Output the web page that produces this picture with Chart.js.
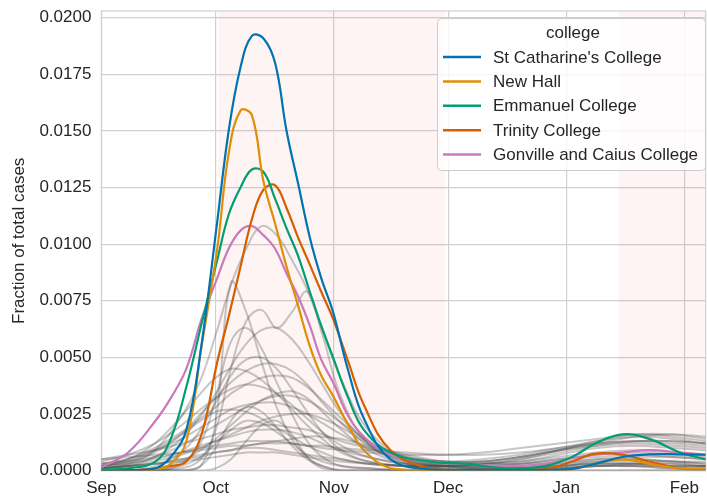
<!DOCTYPE html>
<html>
<head>
<meta charset="utf-8">
<script src="https://cdn.jsdelivr.net/npm/chart.js@4.4.0/dist/chart.umd.min.js"></script>
<style>
  body { margin: 0; background: #fff; }
  #wrap { width: 707px; height: 498px; }
</style>
</head>
<body>
<div id="wrap"><canvas id="grafico" width="707" height="498"></canvas></div>
<script>
// days since 1 Sep
const monthDays = [0, 30, 61, 91, 122, 153];
const monthLabels = ['Sep', 'Oct', 'Nov', 'Dec', 'Jan', 'Feb'];
const yTicks = [0, 0.0025, 0.005, 0.0075, 0.01, 0.0125, 0.015, 0.0175, 0.02];
const termSpans = [[30.7, 90.2], [135.8, 170]];

const collegeNames = ["St Catharine's College", 'New Hall', 'Emmanuel College', 'Trinity College', 'Gonville and Caius College'];
const collegeColors = ['#0173b2', '#de8f05', '#029e73', '#d55e00', '#cc78bc'];

const sampleDays = [0, 7, 14.2, 18.2, 22.3, 26.3, 30.4, 33.4, 36.5, 39.5, 42.5, 45.6, 48.6, 51.6, 54.7, 57.7, 60.8, 64.8, 68.9, 75.9, 86.1, 96.2, 106.3, 116.4, 123.5, 129.6, 136.7, 143.8, 151.9, 158.6];
const stCatharines = [0, 0.00002, 0.0001, 0.0006, 0.0018, 0.0056, 0.0110, 0.0150, 0.0178, 0.0192, 0.0191, 0.0180, 0.0150, 0.0127, 0.0103, 0.0085, 0.0070, 0.0044, 0.0023, 0.0005, 0.00005, 0.00003, 0.00002, 0.00003, 0.00008, 0.0003, 0.0006, 0.00072, 0.00072, 0.0007];
const newHall = [0, 0, 0.00005, 0.0003, 0.0013, 0.0055, 0.0098, 0.0140, 0.0159, 0.0157, 0.0128, 0.0109, 0.0090, 0.0073, 0.0055, 0.0042, 0.0033, 0.0020, 0.0009, 0.0001, 0, 0, 0, 0, 0.00005, 0.0003, 0.0005, 0.0003, 0.0001, 0.0001];
const emmanuel = [0.00005, 0.0001, 0.0004, 0.0014, 0.0037, 0.0065, 0.0093, 0.0113, 0.0125, 0.0133, 0.0132, 0.0120, 0.0107, 0.0095, 0.0079, 0.0064, 0.0050, 0.0032, 0.0018, 0.0008, 0.0004, 0.0003, 0.0001, 0.0002, 0.0006, 0.0012, 0.0016, 0.0014, 0.0008, 0.0005];
const trinity = [0, 0, 0.0001, 0.0002, 0.0004, 0.0016, 0.0048, 0.0068, 0.0090, 0.0111, 0.0124, 0.0126, 0.0116, 0.0103, 0.0091, 0.0079, 0.0067, 0.0048, 0.0029, 0.0009, 0.0001, 0, 0, 0.00005, 0.0004, 0.00075, 0.0007, 0.0004, 0.0001, 0.00005];
const gonvilleCaius = [0.00015, 0.0008, 0.0022, 0.0032, 0.0045, 0.0067, 0.0085, 0.0098, 0.0106, 0.0108, 0.0104, 0.0098, 0.0087, 0.0077, 0.0064, 0.0049, 0.0039, 0.0024, 0.0015, 0.0007, 0.0004, 0.0003, 0.0002, 0.0003, 0.00055, 0.0007, 0.0008, 0.0009, 0.0008, 0.0007];
const collegeSeries = [stCatharines, newHall, emmanuel, trinity, gonvilleCaius];

// other colleges (grey)
const grayDays = [0, 7, 14, 21, 26, 30, 34, 38, 42, 46, 50, 54, 58, 63, 70, 80, 90, 100, 110, 120, 130, 140, 150, 158.6];
const grayA = [0, 0, 0, 0, 0.0002, 0.0022, 0.0083, 0.0070, 0.0048, 0.0028, 0.0014, 0.0006, 0.0002, 0, 0, 0, 0, 0, 0, 0, 0, 0, 0, 0];
const grayB = [0, 0, 0, 0.0001, 0.0005, 0.0018, 0.0045, 0.0066, 0.0071, 0.0063, 0.0070, 0.0079, 0.0060, 0.0032, 0.0012, 0.0003, 0.0001, 0.0001, 0.0001, 0.0002, 0.0003, 0.0003, 0.0002, 0.0002];
const grayBig = [0.0001, 0.0003, 0.0009, 0.0024, 0.0040, 0.0060, 0.0082, 0.0098, 0.0108, 0.0104, 0.0093, 0.0080, 0.0062, 0.0040, 0.0018, 0.0005, 0.0002, 0.0001, 0.0001, 0.0002, 0.0004, 0.0005, 0.0004, 0.0003];
const grayC = [0.0001, 0.0002, 0.0006, 0.0014, 0.0024, 0.0034, 0.0046, 0.0056, 0.0062, 0.0063, 0.0058, 0.0049, 0.0038, 0.0025, 0.0012, 0.0004, 0.0002, 0.0002, 0.0002, 0.0003, 0.0005, 0.0006, 0.0006, 0.0005];
const grayD = [0, 0, 0, 0.0003, 0.0012, 0.0032, 0.0057, 0.0063, 0.0054, 0.0039, 0.0025, 0.0013, 0.0006, 0.0002, 0.0001, 0, 0, 0, 0, 0.0001, 0.0002, 0.0002, 0.0001, 0.0001];
const grayE = [0.0002, 0.0004, 0.0008, 0.0016, 0.0025, 0.0032, 0.0039, 0.0044, 0.0047, 0.0047, 0.0044, 0.0038, 0.0030, 0.0021, 0.0011, 0.0004, 0.0003, 0.0003, 0.0004, 0.0007, 0.0010, 0.0011, 0.0010, 0.0009];
const grayF = [0, 0, 0.0002, 0.0008, 0.0018, 0.0030, 0.0042, 0.0049, 0.0050, 0.0045, 0.0036, 0.0026, 0.0017, 0.0009, 0.0004, 0.0002, 0.0001, 0.0001, 0.0001, 0.0002, 0.0003, 0.0003, 0.0002, 0.0002];
const grayG = [0.0003, 0.0005, 0.0010, 0.0017, 0.0023, 0.0028, 0.0034, 0.0038, 0.0041, 0.0042, 0.0041, 0.0037, 0.0031, 0.0023, 0.0013, 0.0005, 0.0003, 0.0003, 0.0005, 0.0009, 0.0013, 0.0015, 0.0014, 0.0012];
const grayH = [0.0004, 0.0007, 0.0012, 0.0020, 0.0027, 0.0032, 0.0036, 0.0038, 0.0037, 0.0034, 0.0029, 0.0023, 0.0017, 0.0011, 0.0006, 0.0003, 0.0003, 0.0004, 0.0006, 0.0009, 0.0012, 0.0013, 0.0012, 0.0011];
const grayI = [0, 0, 0.0001, 0.0004, 0.0009, 0.0014, 0.0020, 0.0026, 0.0031, 0.0034, 0.0035, 0.0032, 0.0026, 0.0018, 0.0009, 0.0003, 0.0001, 0.0001, 0.0001, 0.0001, 0.0002, 0.0002, 0.0002, 0.0002];
const grayJ = [0.0003, 0.0005, 0.0009, 0.0014, 0.0019, 0.0023, 0.0027, 0.0029, 0.0030, 0.0030, 0.0028, 0.0025, 0.0021, 0.0016, 0.0010, 0.0005, 0.0004, 0.0005, 0.0007, 0.0010, 0.0013, 0.0016, 0.0016, 0.0014];
const grayK = [0.0002, 0.0004, 0.0009, 0.0016, 0.0022, 0.0026, 0.0027, 0.0026, 0.0023, 0.0019, 0.0015, 0.0011, 0.0008, 0.0005, 0.0003, 0.0002, 0.0002, 0.0003, 0.0004, 0.0006, 0.0008, 0.0009, 0.0008, 0.0007];
const grayL = [0.0001, 0.0002, 0.0004, 0.0007, 0.0010, 0.0013, 0.0016, 0.0019, 0.0022, 0.0024, 0.0025, 0.0025, 0.0023, 0.0019, 0.0012, 0.0005, 0.0002, 0.0001, 0.0001, 0.0002, 0.0003, 0.0003, 0.0003, 0.0002];
const grayM = [0, 0, 0, 0.0002, 0.0006, 0.0012, 0.0018, 0.0022, 0.0021, 0.0017, 0.0012, 0.0007, 0.0004, 0.0002, 0.0001, 0, 0, 0, 0, 0.0001, 0.0002, 0.0003, 0.0003, 0.0002];
const grayN = [0.0005, 0.0007, 0.0009, 0.0012, 0.0014, 0.0016, 0.0018, 0.0019, 0.0020, 0.0020, 0.0019, 0.0018, 0.0016, 0.0013, 0.0010, 0.0006, 0.0004, 0.0004, 0.0006, 0.0009, 0.0011, 0.0012, 0.0011, 0.0010];
const grayO = [0.0002, 0.0003, 0.0005, 0.0008, 0.0011, 0.0013, 0.0015, 0.0017, 0.0018, 0.0018, 0.0017, 0.0015, 0.0012, 0.0009, 0.0006, 0.0003, 0.0002, 0.0002, 0.0003, 0.0005, 0.0006, 0.0007, 0.0006, 0.0005];
const grayP = [0.0001, 0.0002, 0.0003, 0.0005, 0.0006, 0.0008, 0.0009, 0.0011, 0.0012, 0.0013, 0.0014, 0.0015, 0.0015, 0.0014, 0.0011, 0.0007, 0.0004, 0.0003, 0.0003, 0.0004, 0.0005, 0.0005, 0.0004, 0.0004];
const grayQ = [0.0005, 0.0006, 0.0007, 0.0008, 0.0009, 0.0010, 0.0011, 0.0011, 0.0012, 0.0012, 0.0012, 0.0011, 0.0011, 0.0010, 0.0009, 0.0008, 0.0007, 0.0007, 0.0008, 0.0010, 0.0012, 0.0013, 0.0013, 0.0012];
const grayR = [0.0001, 0.0002, 0.0003, 0.0005, 0.0007, 0.0008, 0.0009, 0.0010, 0.0010, 0.0009, 0.0008, 0.0007, 0.0006, 0.0005, 0.0003, 0.0002, 0.0002, 0.0003, 0.0005, 0.0008, 0.0011, 0.0013, 0.0013, 0.0012];
const grayS = [0, 0, 0, 0, 0, 0.0001, 0.0005, 0.0013, 0.0020, 0.0022, 0.0016, 0.0006, 0.0001, 0, 0, 0, 0, 0, 0, 0, 0, 0, 0, 0];
const grayT = [0, 0, 0, 0, 0.0002, 0.0010, 0.0022, 0.0028, 0.0026, 0.0019, 0.0011, 0.0005, 0.0002, 0, 0, 0, 0, 0, 0, 0.0001, 0.0002, 0.0002, 0.0001, 0.0001];
const grayU = [0.0002, 0.0005, 0.0012, 0.0024, 0.0034, 0.0041, 0.0045, 0.0044, 0.0040, 0.0034, 0.0027, 0.0020, 0.0014, 0.0008, 0.0004, 0.0002, 0.0002, 0.0002, 0.0003, 0.0005, 0.0007, 0.0008, 0.0007, 0.0006];
const grayV = [0.0002, 0.0003, 0.0006, 0.0011, 0.0016, 0.0020, 0.0024, 0.0028, 0.0031, 0.0033, 0.0033, 0.0031, 0.0027, 0.0021, 0.0013, 0.0006, 0.0004, 0.0004, 0.0006, 0.0009, 0.0012, 0.0015, 0.0016, 0.0015];
const grayW = [0.0003, 0.0004, 0.0006, 0.0008, 0.0010, 0.0011, 0.0012, 0.0013, 0.0013, 0.0013, 0.0012, 0.0011, 0.0010, 0.0009, 0.0008, 0.0007, 0.0007, 0.0008, 0.0010, 0.0012, 0.0014, 0.0016, 0.0015, 0.0013];
const grayX = [0.0001, 0.0002, 0.0003, 0.0004, 0.0005, 0.0006, 0.0007, 0.0008, 0.0008, 0.0008, 0.0007, 0.0006, 0.0005, 0.0004, 0.0003, 0.0002, 0.0002, 0.0002, 0.0002, 0.0003, 0.0004, 0.0004, 0.0004, 0.0003];
const graySeries = [grayA, grayB, grayBig, grayC, grayD, grayE, grayF, grayG, grayH, grayI, grayJ, grayK, grayL, grayM, grayN, grayO, grayP, grayQ, grayR, grayS, grayT, grayU, grayV, grayW, grayX];

const textColor = '#262626';
const gridColor = '#d0d0d0';
const fuente = '"Liberation Sans", Arial, sans-serif';

function puntos(dias, valores) {
  return valores.map((v, i) => ({ x: dias[i], y: v }));
}

const datasets = [];
collegeSeries.forEach((serie, i) => {
  datasets.push({
    label: collegeNames[i],
    data: puntos(sampleDays, serie),
    borderColor: collegeColors[i],
    borderWidth: 2.2,
    pointRadius: 0,
    tension: 0.4,
    fill: false
  });
});
graySeries.forEach((serie) => {
  datasets.push({
    label: '',
    data: puntos(grayDays, serie),
    borderColor: 'rgba(70,70,70,0.3)',
    borderWidth: 2,
    pointRadius: 0,
    tension: 0.4,
    fill: false
  });
});

// pink term shading + frame
const sombreado = {
  id: 'sombreado',
  beforeDatasetsDraw(chart) {
    const { ctx, chartArea: a, scales } = chart;
    ctx.save();
    ctx.beginPath();
    ctx.rect(a.left, a.top, a.right - a.left, a.bottom - a.top);
    ctx.clip();
    ctx.fillStyle = 'rgba(240,110,110,0.08)';
    termSpans.forEach(([ini, fin]) => {
      const x0 = scales.x.getPixelForValue(ini);
      const x1 = scales.x.getPixelForValue(fin);
      ctx.fillRect(x0, a.top, x1 - x0, a.bottom - a.top);
    });
    ctx.restore();
    ctx.save();
    ctx.strokeStyle = gridColor;
    ctx.lineWidth = 1.2;
    ctx.strokeRect(a.left, a.top, a.right - a.left, a.bottom - a.top);
    ctx.restore();
  }
};

// legend box in the top right corner
const leyenda = {
  id: 'leyenda',
  afterDraw(chart) {
    const ctx = chart.ctx;
    const x0 = 437.5, y0 = 18.5, w = 268, h = 152;
    ctx.save();
    ctx.beginPath();
    ctx.roundRect(x0, y0, w, h, 4);
    ctx.fillStyle = 'rgba(255,255,255,0.8)';
    ctx.fill();
    ctx.strokeStyle = '#cccccc';
    ctx.lineWidth = 1;
    ctx.stroke();
    ctx.font = '17px ' + fuente;
    ctx.fillStyle = textColor;
    ctx.textBaseline = 'middle';
    ctx.textAlign = 'center';
    ctx.fillText('college', 573, 33);
    ctx.textAlign = 'left';
    collegeNames.forEach((nombre, i) => {
      const y = 57 + i * 24.4;
      ctx.strokeStyle = collegeColors[i];
      ctx.lineWidth = 2.5;
      ctx.beginPath();
      ctx.moveTo(443, y);
      ctx.lineTo(481, y);
      ctx.stroke();
      ctx.fillStyle = textColor;
      ctx.fillText(nombre, 493, y + 1);
    });
    ctx.restore();
  }
};

new Chart(document.getElementById('grafico').getContext('2d'), {
  type: 'line',
  data: { datasets },
  plugins: [sombreado, leyenda],
  options: {
    responsive: false,
    animation: false,
    layout: { padding: { top: 11, right: 0, left: 9, bottom: -9 } },
    plugins: { legend: { display: false }, tooltip: { enabled: false } },
    scales: {
      x: {
        type: 'linear',
        min: 0,
        max: 158.6,
        afterBuildTicks: (axis) => { axis.ticks = monthDays.map(v => ({ value: v })); },
        ticks: {
          autoSkip: false,
          maxRotation: 0,
          padding: 8,
          color: textColor,
          font: { size: 17, family: fuente },
          callback: (v) => monthLabels[monthDays.indexOf(v)]
        },
        grid: { color: gridColor, lineWidth: 1.2, drawTicks: false },
        border: { display: false }
      },
      y: {
        min: 0,
        max: 0.0203,
        afterBuildTicks: (axis) => { axis.ticks = yTicks.map(v => ({ value: v })); },
        afterFit: (axis) => { axis.paddingTop = 0; axis.paddingBottom = 0; },
        ticks: {
          padding: 10,
          color: textColor,
          font: { size: 17, family: fuente },
          callback: (v) => v.toFixed(4)
        },
        grid: { color: gridColor, lineWidth: 1.2, drawTicks: false },
        border: { display: false },
        title: {
          display: true,
          text: 'Fraction of total cases',
          color: textColor,
          font: { size: 17, family: fuente },
          padding: { top: 0, bottom: 0 }
        }
      }
    }
  }
});
</script>
</body>
</html>
